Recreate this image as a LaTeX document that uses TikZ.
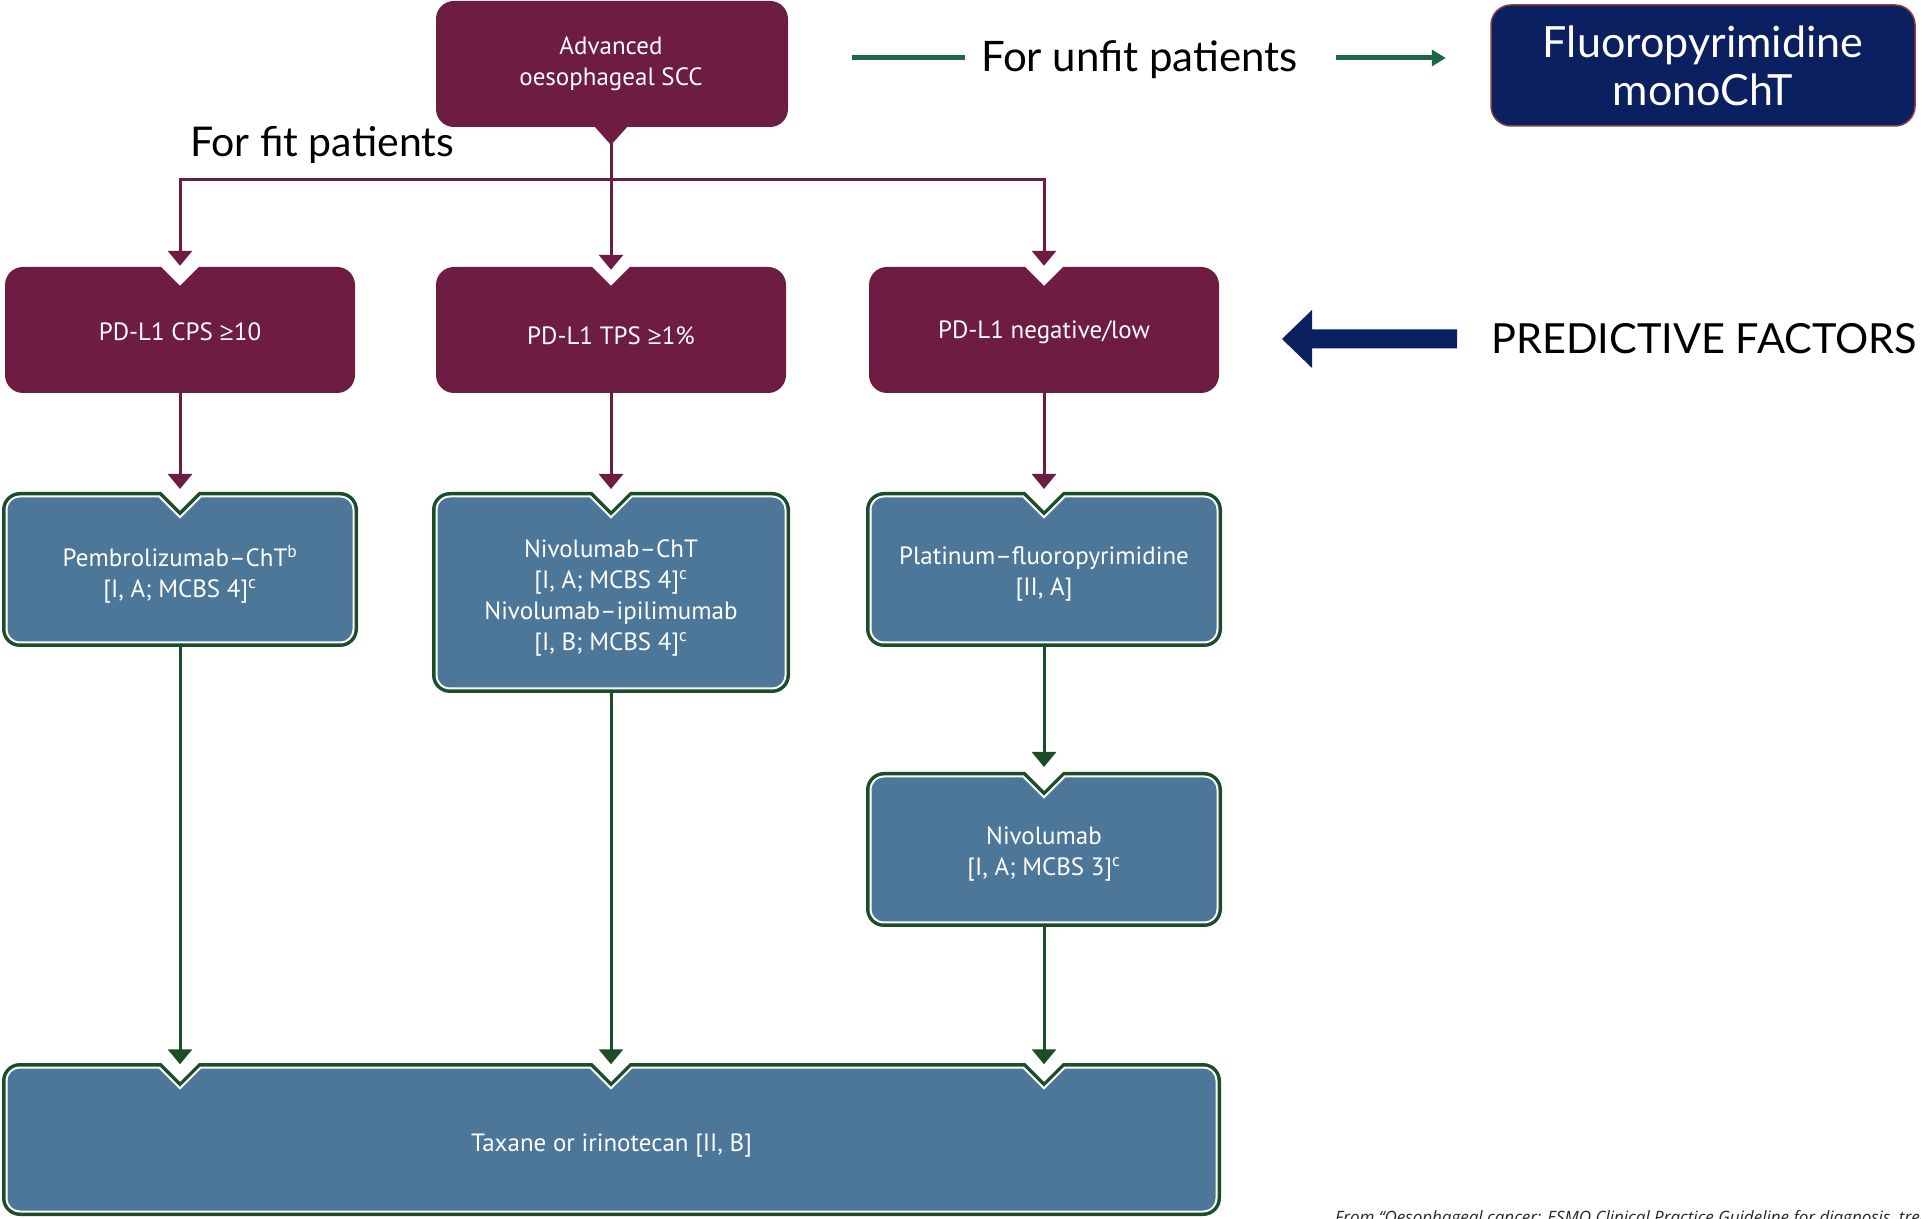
\documentclass[tikz,border=0pt]{standalone}
\usepackage{fontspec}
\setmainfont{Lato}
\newfontfamily\bfont{PT Sans}
\newfontfamily\hfont{Lato}
\newfontfamily\ffont{Open Sans}
\usetikzlibrary{arrows.meta}
\definecolor{maroon}{RGB}{110,28,66}
\definecolor{bluefill}{RGB}{77,119,153}
\definecolor{dgreen}{RGB}{26,77,40}
\definecolor{ugreen}{RGB}{30,104,70}
\definecolor{navy}{RGB}{10,32,96}
\definecolor{fborder}{RGB}{140,60,60}
\newcommand\mygeq{{\ffont ≥}}
% notched rounded box: color, xl, xr, yt, yb, notch list, inset
\newcommand\nbox[7]{%
\pgfmathsetmacro\nbXl{#2+#7}\pgfmathsetmacro\nbXr{#3-#7}%
\pgfmathsetmacro\nbYt{#4-#7}\pgfmathsetmacro\nbYb{#5+#7}%
\pgfmathsetmacro\nbR{18-#7}\pgfmathsetmacro\nbTip{#4-19-1.414*#7}%
\pgfmathsetmacro\nbHw{19+0.414*#7}%
\fill[#1] (\nbXl,{\nbYt-\nbR}) arc[start angle=180,end angle=90,radius=\nbR]
  \foreach \nx in {#6}{ -- ({\nx-\nbHw},\nbYt) -- (\nx,\nbTip) -- ({\nx+\nbHw},\nbYt)}
  -- ({\nbXr-\nbR},\nbYt) arc[start angle=90,end angle=0,radius=\nbR]
  -- (\nbXr,{\nbYb+\nbR}) arc[start angle=0,end angle=-90,radius=\nbR]
  -- ({\nbXl+\nbR},\nbYb) arc[start angle=-90,end angle=-180,radius=\nbR] -- cycle;}
\newcommand\bbox[5]{%
\nbox{dgreen}{#1}{#2}{#3}{#4}{#5}{0}%
\nbox{white}{#1}{#2}{#3}{#4}{#5}{3.5}%
\nbox{bluefill}{#1}{#2}{#3}{#4}{#5}{5.5}}
\tikzset{
  btxt/.style={text=white, align=center, inner sep=0pt, font=\bfont\fontsize{25}{31}\selectfont},
  mline/.style={draw=maroon, line width=3pt},
  marr/.style={mline, -{Triangle[width=24pt,length=15pt]}, shorten >=3pt},
  garr/.style={draw=dgreen, line width=3pt, -{Triangle[width=24pt,length=15pt]}, shorten >=5pt},
  htxt/.style={inner sep=0pt, font=\hfont\fontsize{41}{48}\selectfont, text=black},
}
\begin{document}
\begin{tikzpicture}[x=1pt,y=1pt]
\useasboundingbox (0,0) rectangle (1921,1218);
\fill[white] (0,0) rectangle (1921,1218);
% top box
\fill[maroon, rounded corners=18pt] (436,1091) rectangle (788,1217);
\fill[maroon] (594,1092) -- (611,1073) -- (628,1092) -- cycle;
\node[btxt, minimum width=352pt, minimum height=126pt] (adv) at (611,1154) {Advanced\\oesophageal SCC};
% predictive factor boxes
\nbox{maroon}{5}{355}{951}{825}{180}{0}
\nbox{maroon}{436}{786}{951}{825}{611}{0}
\nbox{maroon}{869}{1219}{951}{825}{1044}{0}
\node[btxt, minimum width=350pt, minimum height=126pt] (pd1) at (180,886) {PD-L1 CPS \mygeq10};
\node[btxt, minimum width=350pt, minimum height=126pt] (pd2) at (611,882) {PD-L1 TPS \mygeq1\%};
\node[btxt, minimum width=350pt, minimum height=126pt] (pd3) at (1044,886) {PD-L1 negative/low};
% treatment boxes
\bbox{2}{358}{726}{571}{180}
\bbox{432}{790}{726}{525}{611}
\bbox{866}{1222}{726}{571}{1044}
\bbox{866}{1222}{446}{291}{1044}
\bbox{2}{1221}{155}{2}{180,611,1044}
\node[btxt, minimum width=356pt, minimum height=155pt] (t1) at (180,644) {Pembrolizumab–ChT\textsuperscript{b}\\{}[I, A; MCBS 4]\textsuperscript{c}};
\node[btxt, minimum width=358pt, minimum height=201pt] (t2) at (611,620) {Nivolumab–ChT\\{}[I, A; MCBS 4]\textsuperscript{c}\\Nivolumab–ipilimumab\\{}[I, B; MCBS 4]\textsuperscript{c}};
\node[btxt, minimum width=356pt, minimum height=155pt] (t3) at (1044,644) {Platinum–fluoropyrimidine\\{}[II, A]};
\node[btxt, minimum width=356pt, minimum height=155pt] (niv) at (1044,364) {Nivolumab\\{}[I, A; MCBS 3]\textsuperscript{c}};
\node[btxt, minimum width=1219pt, minimum height=153pt] (tax) at (611.5,72) {Taxane or irinotecan [II, B]};
% fluoropyrimidine box
\fill[navy, draw=fborder, line width=1.5pt, rounded corners=20pt] (1491,1092) rectangle (1915,1213);
\node[inner sep=0pt, align=center, text=white, font=\hfont\fontsize{43}{48}\selectfont, minimum width=424pt, minimum height=121pt] (fluoro) at (1703,1152.5) {Fluoropyrimidine\\monoChT};
% labels
\node[htxt, anchor=base west] (fit) at (190,1061) {For fit patients};
\node[htxt, font=\hfont\fontsize{42}{48}\selectfont, anchor=base west] (unfit) at (981,1146) {For unfit patients};
\node[htxt, font=\hfont\fontsize{41.5}{48}\selectfont, anchor=west] (pred) at (1491,879) {PREDICTIVE FACTORS};
% connectors
\coordinate (jn) at (611,1038);
\draw[mline] (adv.south) -- (jn);
\draw[marr] (jn) -| (pd1.north);
\draw[marr] (jn) -- (pd2.north);
\draw[marr] (jn) -| (pd3.north);
\draw[marr] (pd1.south |- 0,825) -- (t1.north |- 0,726);
\draw[marr] (pd2.south |- 0,825) -- (t2.north |- 0,726);
\draw[marr] (pd3.south |- 0,825) -- (t3.north |- 0,726);
\draw[garr] (t1.south |- 0,571) -- (t1.south |- tax.north);
\draw[garr] (t2.south |- 0,525) -- (t2.south |- tax.north);
\draw[garr] (t3.south |- 0,571) -- (niv.north |- 0,446);
\draw[garr] (niv.south |- 0,291) -- (niv.south |- tax.north);
% unfit connector
\coordinate (ustart) at (852,1160);
\draw[draw=ugreen, line width=5pt, shorten >=16pt] (ustart) -- (unfit.west |- ustart);
\draw[draw=ugreen, line width=5pt, -{Triangle[width=16pt,length=14pt]}, shorten <=38pt, shorten >=45pt] (unfit.east |- ustart) -- (fluoro.west |- ustart);
% navy block arrow
\fill[navy] (1282,879) -- (1312,908) -- (1312,888.5) -- (1457,888.5) -- (1457,869.5) -- (1312,869.5) -- (1312,850) -- cycle;
% footer
\begin{scope}
\clip (0,0) rectangle (1921,1218);
\node[inner sep=0pt, anchor=base west, font=\ffont\itshape\fontsize{17}{20}\selectfont, text=black!85] (foot) at (1335,-5) {From “Oesophageal cancer: ESMO Clinical Practice Guideline for diagnosis, treatment and follow-up”};
\end{scope}
\end{tikzpicture}
\end{document}
